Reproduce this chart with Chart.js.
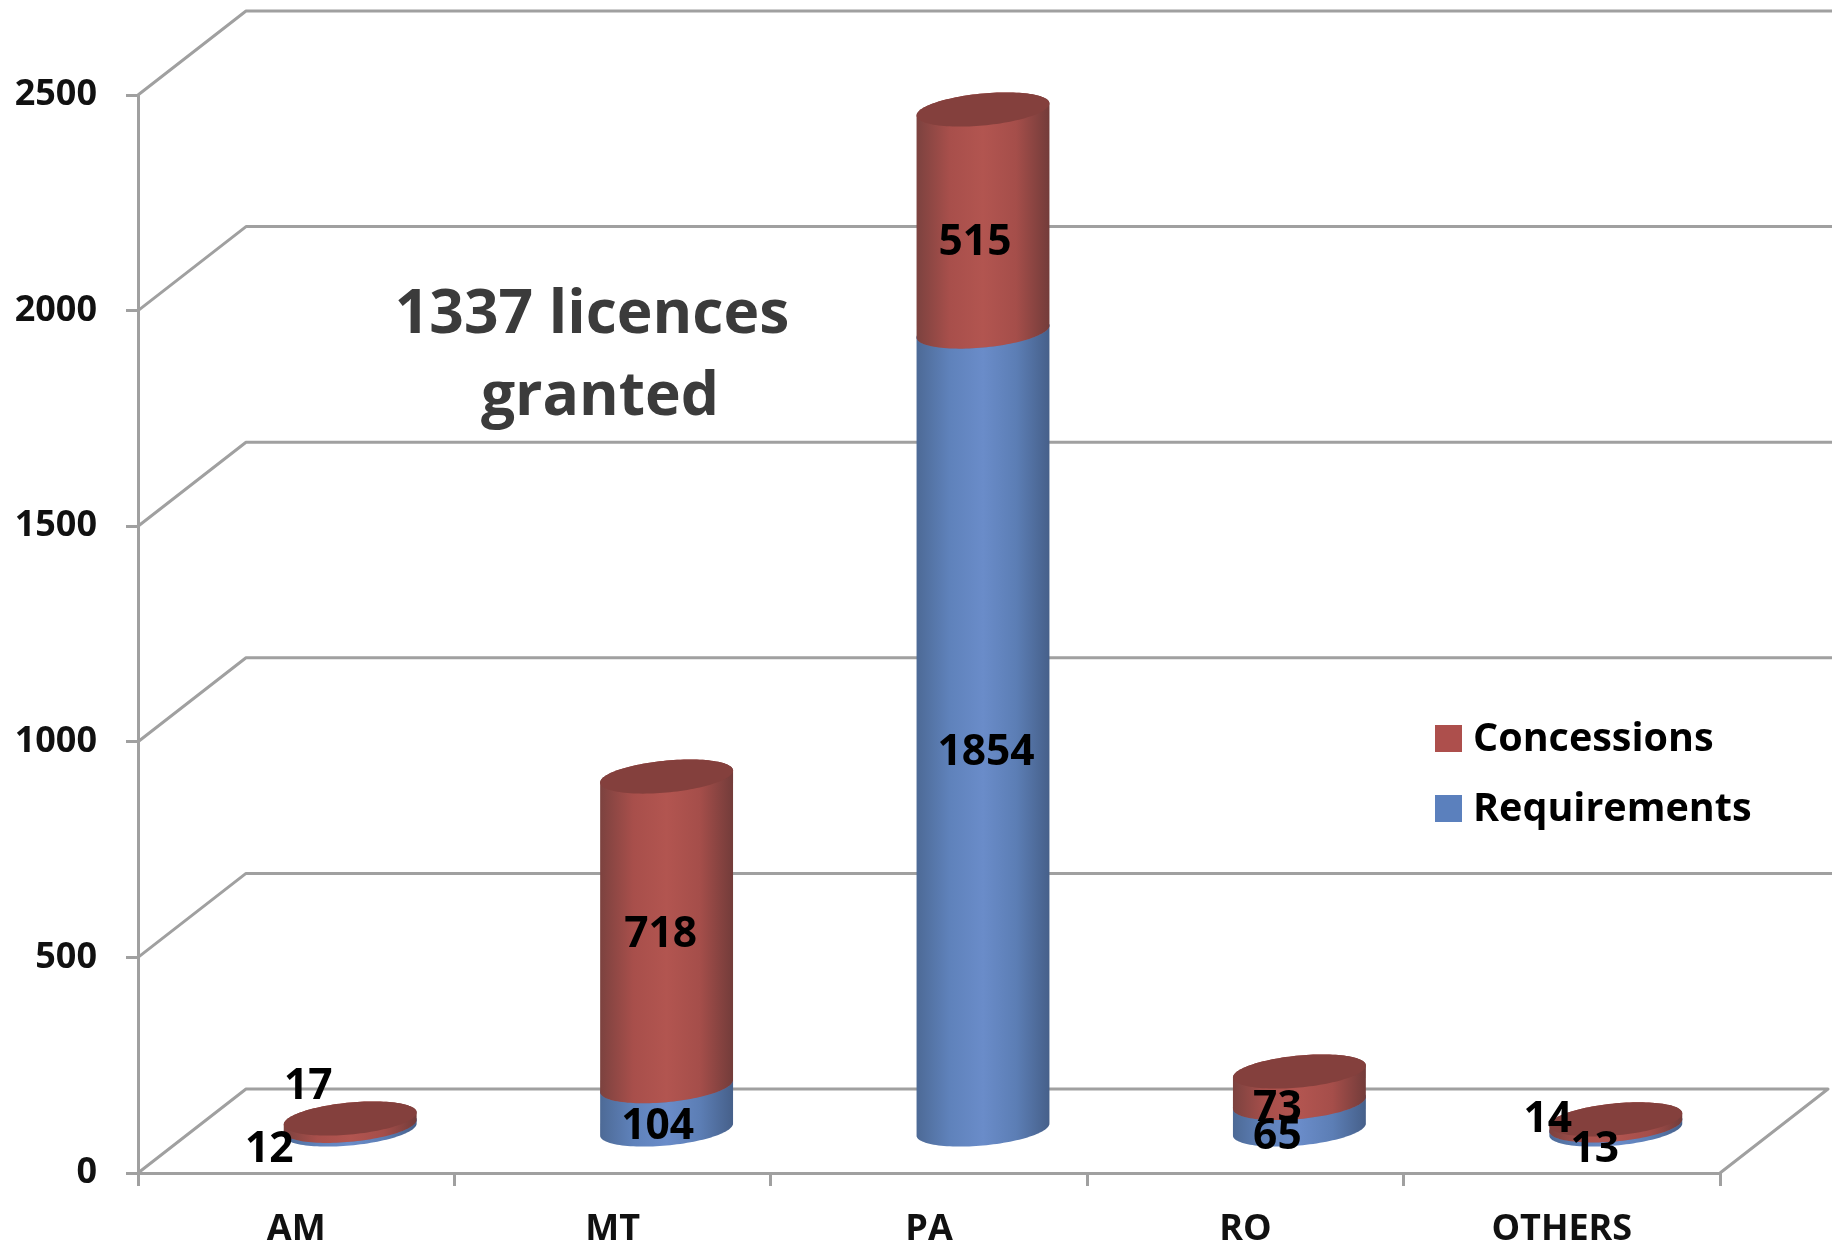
<!DOCTYPE html>
<html>
<head>
<meta charset="utf-8">
<title>Licences</title>
<script src="https://cdn.jsdelivr.net/npm/chart.js@4"></script>
<style>
  html, body { margin: 0; padding: 0; background: #fff; }
  canvas { display: block; filter: blur(0.6px); }
</style>
</head>
<body>
<canvas id="myChart" width="1832" height="1244"></canvas>
<script>
// values
const categories = ['AM', 'MT', 'PA', 'RO', 'OTHERS'];
const requirements = [12, 104, 1854, 65, 13];
const concessions = [17, 718, 515, 73, 14];
const yTicks = [0, 500, 1000, 1500, 2000, 2500];
const noteLines = ['1337 licences', 'granted'];

const fontName = '"Open Sans", sans-serif';
const gridColor = '#a0a0a0';

// how far the back of the box sits from the front
const depthX = 108;
const depthY = -84;

// hand placed data labels, relative to middle of the bar segment
const labelShift = [
  [[-27, -19.5], [45, -23], [57, -19.5], [32, -21.5], [33, -19.5]],
  [[12, -77], [48, -38.5], [46, -20], [32, -20.5], [-14, -44.5]]
];

const sideStops = [
  [[0, '#4d6a96'], [0.25, '#5f82bb'], [0.5, '#6a8cc9'], [0.75, '#5c7eb5'], [1, '#46608a']],
  [[0, '#7c423f'], [0.25, '#a84f4b'], [0.5, '#b25550'], [0.75, '#a54e4a'], [1, '#733c3a']]
];
const capColors = ['#5b7db5', '#84403d'];

function ellipsePoint(cx, y, rx, t) {
  const ry = 16, slant = 6;
  return [cx + rx * Math.cos(t), y + ry * Math.sin(t) - slant * Math.cos(t)];
}

function drawCylinder(ctx, el, index) {
  const cx = el.x + depthX / 2;
  const rx = el.width / 2;
  const top = el.y + depthY / 2;
  const bottom = el.base + depthY / 2;

  const grad = ctx.createLinearGradient(cx - rx, 0, cx + rx, 0);
  sideStops[index].forEach(s => grad.addColorStop(s[0], s[1]));

  ctx.beginPath();
  for (let i = 0; i <= 60; i++) {
    const p = ellipsePoint(cx, bottom, rx, Math.PI * i / 60);
    i === 0 ? ctx.moveTo(p[0], p[1]) : ctx.lineTo(p[0], p[1]);
  }
  for (let i = 0; i <= 60; i++) {
    const p = ellipsePoint(cx, top, rx, Math.PI + Math.PI * i / 60);
    ctx.lineTo(p[0], p[1]);
  }
  ctx.closePath();
  ctx.fillStyle = grad;
  ctx.fill();

  ctx.beginPath();
  for (let i = 0; i <= 120; i++) {
    const p = ellipsePoint(cx, top, rx, Math.PI * 2 * i / 120);
    i === 0 ? ctx.moveTo(p[0], p[1]) : ctx.lineTo(p[0], p[1]);
  }
  ctx.closePath();
  ctx.fillStyle = capColors[index];
  ctx.fill();
}

const box3d = {
  id: 'box3d',
  beforeDatasetsDraw(chart) {
    const ctx = chart.ctx;
    const area = chart.chartArea;
    const y = chart.scales.y;
    ctx.save();
    ctx.strokeStyle = gridColor;
    ctx.lineWidth = 3;
    ctx.lineJoin = 'round';
    yTicks.forEach(v => {
      const py = y.getPixelForValue(v);
      ctx.beginPath();
      ctx.moveTo(area.left, py);
      ctx.lineTo(area.left + depthX, py + depthY);
      ctx.lineTo(v === 0 ? area.right + depthX : chart.width, py + depthY);
      if (v === 0) ctx.lineTo(area.right, py);
      ctx.stroke();
    });
    ctx.restore();
  },
  // the library's flat bars are replaced by the cylinders below
  beforeDatasetDraw() {
    return false;
  },
  afterDatasetsDraw(chart) {
    const ctx = chart.ctx;
    ctx.save();
    chart.data.datasets.forEach((ds, d) => {
      chart.getDatasetMeta(d).data.forEach(el => drawCylinder(ctx, el, d));
    });

    ctx.fillStyle = '#000';
    ctx.font = 'bold 42.5px ' + fontName;
    ctx.textAlign = 'center';
    ctx.textBaseline = 'middle';
    chart.data.datasets.forEach((ds, d) => {
      chart.getDatasetMeta(d).data.forEach((el, i) => {
        const s = labelShift[d][i];
        ctx.fillText(ds.data[i], el.x + s[0], (el.y + el.base) / 2 + s[1]);
      });
    });

    // note
    ctx.fillStyle = '#3b3b3b';
    ctx.font = 'bold 60.5px ' + fontName;
    ctx.fillText(noteLines[0], 592, 316);
    ctx.fillText(noteLines[1], 600, 398);

    // legend, concessions on top
    ctx.textAlign = 'left';
    ctx.font = 'bold 39.5px ' + fontName;
    [[1, 725], [0, 795]].forEach(row => {
      const ds = chart.data.datasets[row[0]];
      ctx.fillStyle = ds.backgroundColor;
      ctx.fillRect(1435, row[1], 27, 27);
      ctx.fillStyle = '#000';
      ctx.fillText(ds.label, 1473, row[1] + 15);
    });
    ctx.restore();
  }
};

new Chart(document.getElementById('myChart'), {
  type: 'bar',
  data: {
    labels: categories,
    datasets: [
      { label: 'Requirements', data: requirements, backgroundColor: '#5b80bd', categoryPercentage: 1, barPercentage: 0.42 },
      { label: 'Concessions', data: concessions, backgroundColor: '#ad4f4c', categoryPercentage: 1, barPercentage: 0.42 }
    ]
  },
  options: {
    responsive: false,
    animation: false,
    layout: { padding: { top: 95, right: 112, left: 0, bottom: 0 } },
    plugins: { legend: { display: false }, tooltip: { enabled: false } },
    scales: {
      x: {
        stacked: true,
        afterFit(scale) { scale.height = 71; },
        grid: { drawOnChartArea: false, color: gridColor, lineWidth: 3, tickLength: 13 },
        border: { color: gridColor, width: 3 },
        ticks: { color: '#111', padding: 22, maxRotation: 0, font: { family: fontName, size: 36, weight: 'bold' } }
      },
      y: {
        stacked: true,
        min: 0,
        max: 2500,
        afterFit(scale) { scale.width = 138; },
        afterBuildTicks(scale) { scale.ticks = yTicks.map(v => ({ value: v })); },
        grid: { drawOnChartArea: false, color: gridColor, lineWidth: 3, tickLength: 12 },
        border: { color: gridColor, width: 3 },
        ticks: { color: '#111', padding: 29, callback: v => String(v), font: { family: fontName, size: 36, weight: 'bold' } }
      }
    }
  },
  plugins: [box3d]
});
</script>
</body>
</html>
